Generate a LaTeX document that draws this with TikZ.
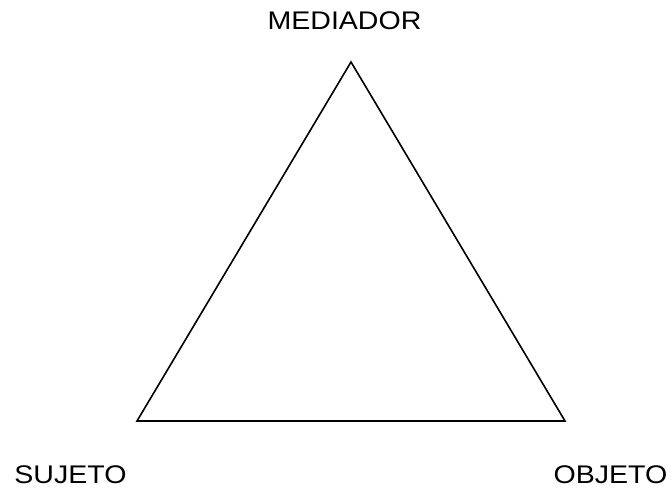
\documentclass[tikz,border=0pt]{standalone}
\usepackage{fontspec}
\setmainfont{Liberation Sans}
\usetikzlibrary{positioning}

\begin{document}
\begin{tikzpicture}[x=1pt, y=-1pt,
    side/.style={draw=black, line width=1.6pt, line join=miter},
    vlabel/.style={anchor=base, inner sep=0pt, xscale=1.12, transform shape,
                   font=\fontsize{25.5}{30}\selectfont}]

\useasboundingbox (0,0) rectangle (671,488);

% Vertices
\coordinate (med) at (351,62);
\coordinate (suj) at (137,421);
\coordinate (obj) at (565,421);

% Triangle
\draw[side] (med) -- (obj) -- (suj) -- cycle;

% Labels
\node[vlabel] (lmed) at (344.5,29) {MEDIADOR};
\node[vlabel] (lsuj) at (70.5,483) {SUJETO};
\node[vlabel] (lobj) at (610.5,483) {OBJETO};
\end{tikzpicture}
\end{document}
